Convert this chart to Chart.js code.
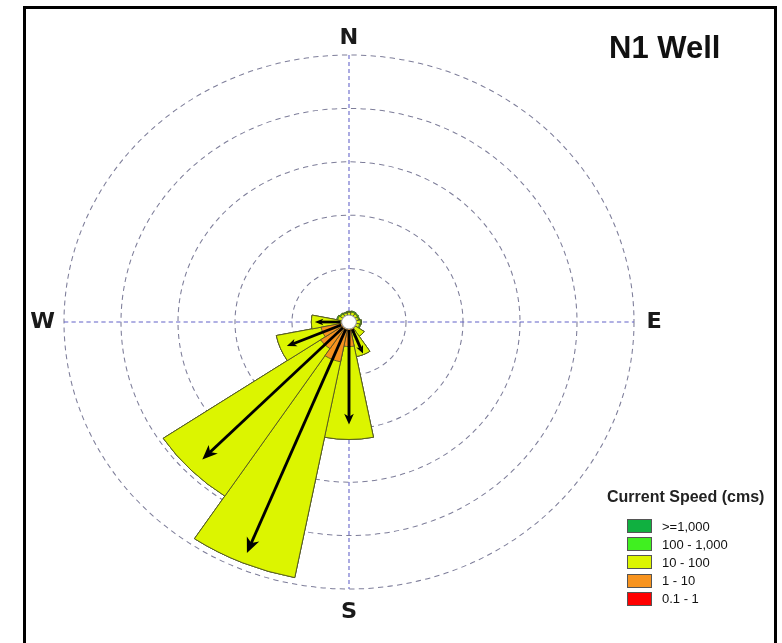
<!DOCTYPE html>
<html>
<head>
<meta charset="utf-8">
<title>N1 Well - current rose</title>
<script src="https://cdn.jsdelivr.net/npm/chart.js@4.4.1/dist/chart.umd.min.js"></script>
<style>
  body { margin: 0; background: #fff; }
  #wrap { position: relative; width: 782px; height: 643px; overflow: hidden; background: #fff;
          font-family: "Liberation Sans", Arial, sans-serif; }
  #frame { position: absolute; left: 23px; top: 6px; width: 748px; height: 720px; border: 3px solid #000; }
  #rose { position: absolute; left: 0; top: 0; }
  #title { position: absolute; left: 609px; top: 32px; font-size: 31px; line-height: 31px;
           font-weight: bold; color: #111; white-space: nowrap; }
  #legendTitle { position: absolute; left: 607px; top: 489px; font-size: 16px; line-height: 16px;
                 font-weight: bold; color: #222; white-space: nowrap; }
  #legendItems { position: absolute; left: 627px; top: 517px; }
  .row { display: flex; align-items: center; height: 18.2px; font-size: 13px; color: #111; }
  .box { width: 25px; height: 14px; box-sizing: border-box; border: 1px solid #555; margin-right: 10px; }
</style>
</head>
<body>
<div id="wrap">
  <div id="frame"></div>
  <canvas id="rose" width="782" height="643"></canvas>
  <div id="title">N1 Well</div>
  <div id="legendTitle">Current Speed (cms)</div>
  <div id="legendItems"></div>
</div>
<script>
// 16 compass sectors, clockwise from north
const directions = ['N', 'NNE', 'NE', 'ENE', 'E', 'ESE', 'SE', 'SSE',
                    'S', 'SSW', 'SW', 'WSW', 'W', 'WNW', 'NW', 'NNW'];

// frequency (%) per speed class, innermost class first
const speedLabels = ['0.1 - 1', '1 - 10', '10 - 100', '100 - 1,000', '>=1,000'];
const speedColors = ['#ff0000', '#f7931e', '#dcf500', '#40f020', '#10b040'];
const freq01    = [0, 0, 0, 0, 0, 0, 0.1, 0.1, 0.2, 0.3, 0.2, 0.1, 0.1, 0, 0, 0];
const freq1     = [0.4, 0.4, 0.3, 0.3, 0.3, 0.4, 0.6, 0.9, 2.1, 3.5, 2.8, 2.4, 0.6, 0.4, 0.4, 0.4];
const freq10    = [0.5, 0.55, 0.6, 0.55, 0.7, 0.55, 0.9, 2.3, 8.7, 20.6, 16.6, 4.0, 2.6, 0.6, 0.5, 0.45];
const freq100   = [0.1, 0.1, 0.1, 0.1, 0.1, 0.1, 0, 0, 0, 0, 0, 0, 0, 0.1, 0.1, 0.1];
const freq1000  = [0, 0, 0, 0, 0, 0, 0, 0, 0, 0, 0, 0, 0, 0, 0, 0];

// mean current vector per sector (same units as the rings), 0 = no arrow
const vectorLen = [0, 0, 0, 0, 0, 0, 0, 3.2, 9.6, 23.4, 18.2, 5.9, 3.0, 0, 0, 0];
const calm = 0.65;

const ringMax = 25;
const ringStep = 5;
const cardinals = ['N', 'E', 'S', 'W'];
const stretchX = 1.0674; // the original plot is a little wider than tall

// stacked rose: draw cumulative totals, outer class underneath
const classFreqs = [freq01, freq1, freq10, freq100, freq1000];
let running = directions.map(() => 0);
const datasets = classFreqs.map((freq, k) => {
    running = running.map((v, i) => v + freq[i]);
    return {
        label: speedLabels[k],
        data: running.slice(),
        backgroundColor: speedColors[k],
        borderColor: '#4e4e24',
        borderWidth: 0.8,
    };
});

function drawArrow(ctx, x0, y0, x1, y1) {
    const len = Math.hypot(x1 - x0, y1 - y0);
    const head = Math.min(15, 7 + 0.04 * len);
    const half = head * 0.42;
    const a = Math.atan2(y1 - y0, x1 - x0);
    const cos = Math.cos(a), sin = Math.sin(a);
    ctx.beginPath();
    ctx.moveTo(x0, y0);
    ctx.lineTo(x1 - head * 0.7 * cos, y1 - head * 0.7 * sin);
    ctx.stroke();
    ctx.beginPath();
    ctx.moveTo(x1, y1);
    ctx.lineTo(x1 - head * cos + half * sin, y1 - head * sin - half * cos);
    ctx.lineTo(x1 - head * 0.72 * cos, y1 - head * 0.72 * sin);
    ctx.lineTo(x1 - head * cos - half * sin, y1 - head * sin + half * cos);
    ctx.closePath();
    ctx.fill();
}

const roseDecor = {
    id: 'roseDecor',
    beforeDraw(chart) {
        const r = chart.scales.r;
        const ctx = chart.ctx;
        ctx.save();
        ctx.translate(r.xCenter, 0);
        ctx.scale(stretchX, 1);
        ctx.translate(-r.xCenter, 0);
    },
    beforeDatasetsDraw(chart) {
        // N-S and W-E axes
        const r = chart.scales.r;
        const ctx = chart.ctx;
        const R = r.drawingArea;
        ctx.save();
        ctx.strokeStyle = '#6262c8';
        ctx.lineWidth = 1;
        ctx.setLineDash([4, 3]);
        ctx.beginPath();
        ctx.moveTo(r.xCenter, r.yCenter - R);
        ctx.lineTo(r.xCenter, r.yCenter + R);
        ctx.moveTo(r.xCenter - R, r.yCenter);
        ctx.lineTo(r.xCenter + R, r.yCenter);
        ctx.stroke();
        ctx.restore();
    },
    afterDatasetsDraw(chart) {
        const r = chart.scales.r;
        const ctx = chart.ctx;
        const arcs = chart.getDatasetMeta(0).data;
        const r0 = r.getDistanceFromCenterForValue(calm);

        // calm circle
        ctx.save();
        ctx.fillStyle = '#ffffff';
        ctx.strokeStyle = '#9a9a9a';
        ctx.lineWidth = 1;
        ctx.beginPath();
        ctx.arc(r.xCenter, r.yCenter, r0, 0, Math.PI * 2);
        ctx.fill();
        ctx.stroke();

        // mean vectors
        ctx.strokeStyle = '#000';
        ctx.fillStyle = '#000';
        ctx.lineWidth = 2.7;
        vectorLen.forEach((v, i) => {
            if (!v) return;
            const a = (arcs[i].startAngle + arcs[i].endAngle) / 2;
            const d = r.getDistanceFromCenterForValue(v);
            drawArrow(ctx,
                r.xCenter + (r0 + 1) * Math.cos(a), r.yCenter + (r0 + 1) * Math.sin(a),
                r.xCenter + d * Math.cos(a), r.yCenter + d * Math.sin(a));
        });
        ctx.restore();
    },
    afterDraw(chart) {
        const r = chart.scales.r;
        const ctx = chart.ctx;
        const R = r.drawingArea;
        ctx.save();
        ctx.font = 'bold 21px "DejaVu Sans", Arial, sans-serif';
        ctx.fillStyle = '#1a1a1a';
        ctx.textAlign = 'center';
        ctx.textBaseline = 'middle';
        const offsets = {N: [0, -R - 17], E: [R + 19, 0], S: [0, R + 23], W: [-R - 20, 0]};
        cardinals.forEach(c => {
            ctx.fillText(c, r.xCenter + offsets[c][0], r.yCenter + offsets[c][1] + 1);
        });
        ctx.restore();
        ctx.restore(); // stretch from beforeDraw
    }
};

const chart = new Chart(document.getElementById('rose'), {
    type: 'polarArea',
    data: {
        labels: directions,
        datasets: datasets,
    },
    options: {
        responsive: false,
        animation: false,
        events: [],
        layout: { padding: { left: 82, right: 165, top: 55, bottom: 54 } },
        plugins: {
            legend: { display: false },
            title: { display: false },
            tooltip: { enabled: false },
        },
        scales: {
            r: {
                min: 0,
                max: ringMax,
                startAngle: -11.25,
                ticks: { display: false, stepSize: ringStep },
                grid: { circular: true, color: '#7e7e9a', lineWidth: 1 },
                border: { dash: [5, 4] },
                angleLines: { display: false },
                pointLabels: { display: false },
            },
        },
    },
    plugins: [roseDecor],
});

// html legend built from the datasets, highest class on top
const legendItems = document.getElementById('legendItems');
chart.data.datasets.slice().reverse().forEach(ds => {
    const row = document.createElement('div');
    row.className = 'row';
    const box = document.createElement('span');
    box.className = 'box';
    box.style.background = ds.backgroundColor;
    const txt = document.createElement('span');
    txt.textContent = ds.label;
    row.appendChild(box);
    row.appendChild(txt);
    legendItems.appendChild(row);
});
</script>
</body>
</html>
